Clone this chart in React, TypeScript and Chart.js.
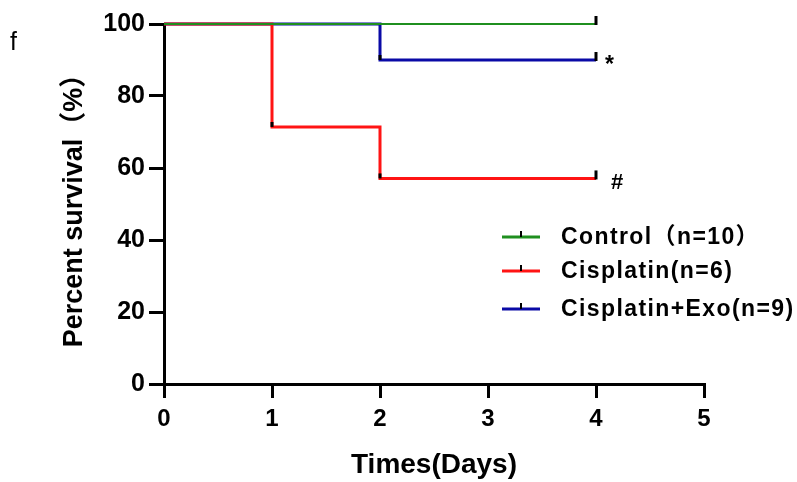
import React, { useEffect, useRef } from "react";
import { Chart, registerables } from "chart.js";

Chart.register(...registerables);

const days = [0, 1, 2, 4];
const seriesLabels = ["Control（n=10）", "Cisplatin(n=6)", "Cisplatin+Exo(n=9)"];
const controlSurvival = [100, 100, 100, 100];
const cisplatinSurvival = [100, 71.4, 57.1, 57.1];
const exoSurvival = [100, 100, 90, 90];
const seriesMarks = ["", "#", "*"];
const seriesColors = ["#1f8f1f", "#ff1414", "#0a0aa6"];
const seriesWidths = [2, 3, 3];
const xTicks = [0, 1, 2, 3, 4, 5];
const yTicks = [0, 20, 40, 60, 80, 100];
const xTitle = "Times(Days)";
const yTitle = "Percent survival（%）";
const panelLabel = "f";

const FONT = "'Liberation Sans', Arial, 'Noto Sans CJK SC', sans-serif";

const overlayPlugin = {
  id: "kmOverlay",
  afterDatasetsDraw(chart: any) {
    const ctx = chart.ctx;
    ctx.save();
    chart.data.datasets.forEach((ds: any, di: number) => {
      const meta = chart.getDatasetMeta(di);
      const pts = meta.data;
      ctx.strokeStyle = "#000";
      ctx.lineWidth = 3;
      ctx.lineCap = "butt";
      for (let i = 1; i < pts.length; i++) {
        const prev = ds.data[i - 1].y;
        const cur = ds.data[i].y;
        if (cur !== prev) {
          ctx.beginPath();
          ctx.moveTo(pts[i].x, pts[i].y);
          ctx.lineTo(pts[i].x, pts[i].y - 5);
          ctx.stroke();
        }
      }
      const last = pts[pts.length - 1];
      ctx.beginPath();
      ctx.moveTo(last.x, last.y + 1);
      ctx.lineTo(last.x, last.y - 8);
      ctx.stroke();
      const mark = seriesMarks[di];
      if (mark) {
        ctx.fillStyle = "#000";
        ctx.textAlign = "left";
        ctx.textBaseline = "middle";
        if (mark === "#") {
          ctx.font = `bold 22px ${FONT}`;
          ctx.fillText(mark, last.x + 15, last.y + 4);
        } else {
          ctx.font = `bold 23px ${FONT}`;
          ctx.fillText(mark, last.x + 9, last.y + 6);
        }
      }
    });
    const rows = [237, 271, 309];
    chart.data.datasets.forEach((ds: any, di: number) => {
      const y = rows[di];
      ctx.strokeStyle = ds.borderColor;
      ctx.lineWidth = 3;
      ctx.beginPath();
      ctx.moveTo(502, y);
      ctx.lineTo(540, y);
      ctx.stroke();
      ctx.strokeStyle = "#000";
      ctx.lineWidth = 2;
      ctx.beginPath();
      ctx.moveTo(521, y);
      ctx.lineTo(521, y - 6);
      ctx.stroke();
      ctx.fillStyle = "#000";
      ctx.font = `bold 23px ${FONT}`;
      (ctx as any).letterSpacing = "1.4px";
      ctx.textAlign = "left";
      ctx.textBaseline = "middle";
      ctx.fillText(ds.label, 561, y + 1);
      (ctx as any).letterSpacing = "0px";
    });
    ctx.fillStyle = "#000";
    ctx.font = `25px ${FONT}`;
    ctx.textAlign = "left";
    ctx.textBaseline = "alphabetic";
    ctx.fillText(panelLabel, 10, 50);
    ctx.restore();
  },
};

export default function App() {
  const ref = useRef<HTMLCanvasElement | null>(null);
  useEffect(() => {
    if (!ref.current) return;
    const mk = (vals: number[]) => days.map((d, i) => ({ x: d, y: vals[i] }));
    const all = [controlSurvival, cisplatinSurvival, exoSurvival];
    const chart = new Chart(ref.current, {
      type: "line",
      data: {
        datasets: all.map((vals, i) => ({
          label: seriesLabels[i],
          data: mk(vals),
          borderColor: seriesColors[i],
          backgroundColor: seriesColors[i],
          borderWidth: seriesWidths[i],
          stepped: true,
          pointRadius: 0,
          fill: false,
          clip: false as any,
        })),
      },
      options: {
        animation: false,
        responsive: false,
        devicePixelRatio: 1,
        layout: { padding: { top: 24, right: 93, bottom: 0, left: 0 } },
        plugins: { legend: { display: false }, tooltip: { enabled: false } },
        scales: {
          x: {
            type: "linear",
            min: xTicks[0],
            max: xTicks[xTicks.length - 1],
            afterBuildTicks: (s: any) => {
              s.ticks = xTicks.map((v) => ({ value: v }));
            },
            afterFit: (s: any) => {
              s.height = 98;
            },
            border: { display: true, color: "#000", width: 3 },
            grid: { drawOnChartArea: false, drawTicks: true, tickLength: 14, tickWidth: 3, tickColor: "#000", color: "#000", lineWidth: 3 },
            ticks: { color: "#000", font: { family: FONT, size: 24, weight: "bold" }, padding: 7, maxRotation: 0 },
            title: { display: true, text: xTitle, color: "#000", font: { family: FONT, size: 28, weight: "bold" }, padding: { top: 0, bottom: 0 } },
          },
          y: {
            type: "linear",
            min: yTicks[0],
            max: yTicks[yTicks.length - 1],
            afterBuildTicks: (s: any) => {
              s.ticks = yTicks.map((v) => ({ value: v }));
            },
            afterFit: (s: any) => {
              s.width = 164;
            },
            border: { display: true, color: "#000", width: 3 },
            grid: { drawOnChartArea: false, drawTicks: true, tickLength: 15, tickWidth: 3, tickColor: "#000", color: "#000", lineWidth: 3 },
            ticks: { color: "#000", font: { family: FONT, size: 25, weight: "bold" }, padding: 4 },
            title: { display: true, text: yTitle, color: "#000", font: { family: FONT, size: 27, weight: "bold" }, padding: { top: 58, bottom: 0 } },
          },
        },
      },
      plugins: [overlayPlugin],
    });
    return () => chart.destroy();
  }, []);
  return (
    <div style={{ position: "fixed", left: 0, top: 0, width: 797, height: 482, background: "#fff" }}>
      <canvas ref={ref} width={797} height={482} style={{ width: 797, height: 482 }} />
    </div>
  );
}
